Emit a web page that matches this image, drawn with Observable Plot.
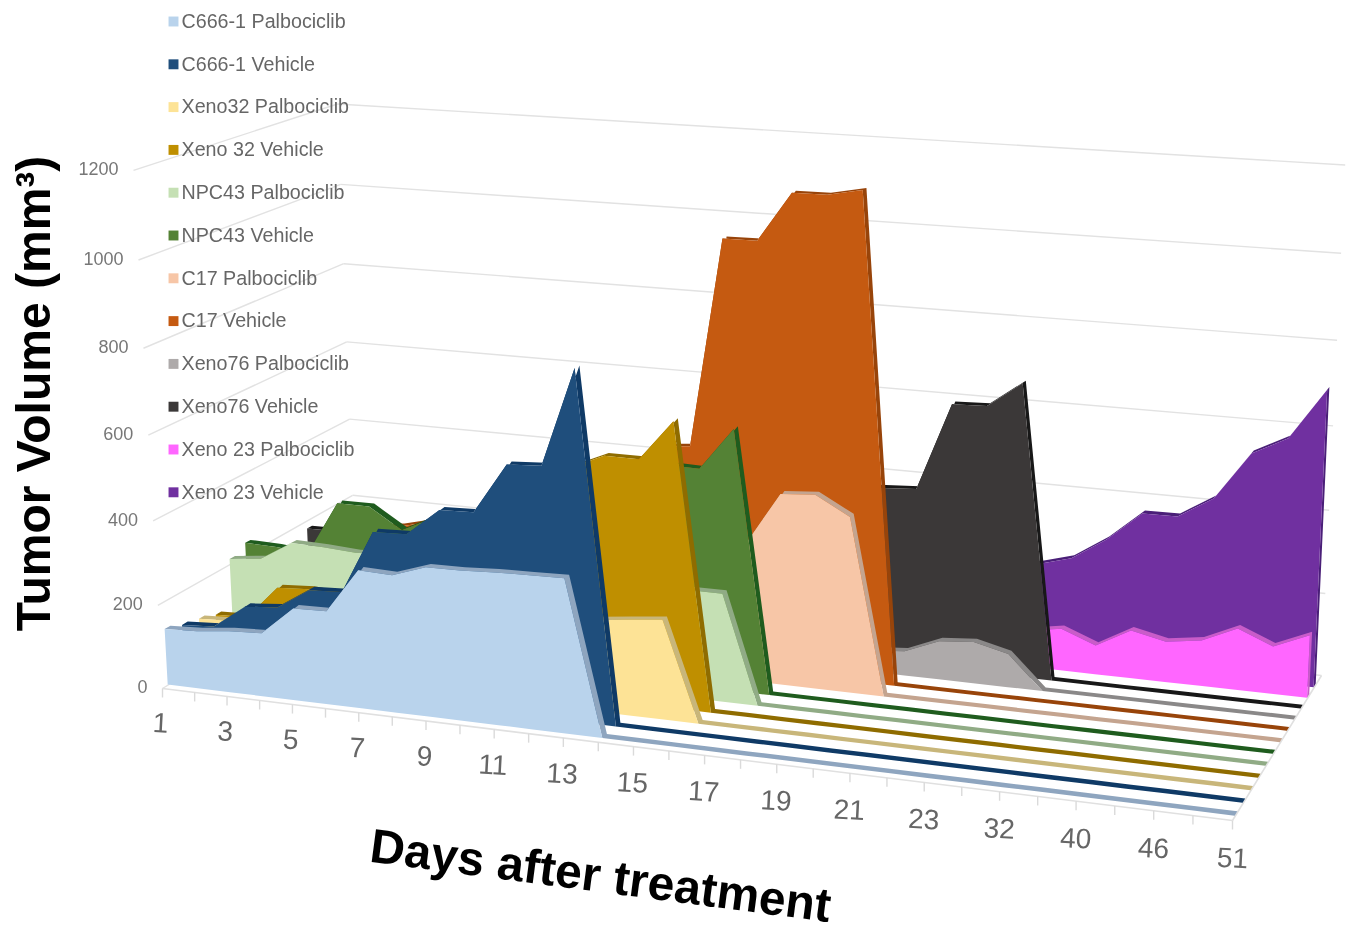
<!DOCTYPE html>
<html><head><meta charset="utf-8">
<script src="https://cdn.jsdelivr.net/npm/d3@7"></script>
<script src="https://cdn.jsdelivr.net/npm/@observablehq/plot@0.6"></script>
<style>html,body{margin:0;padding:0;background:#fff;overflow:hidden}svg{display:block;filter:blur(.6px)}</style>
</head><body><div id="chart"></div>
<script>
const days = [1,2,3,4,5,6,7,8,9,10,11,12,13,14,15,16,17,18,19,20,21,22,23,28,32,36,40,43,46,49,51];
const seriesNames = ["C666-1 Palbociclib","C666-1 Vehicle","Xeno32 Palbociclib","Xeno 32 Vehicle","NPC43 Palbociclib","NPC43 Vehicle","C17 Palbociclib","C17 Vehicle","Xeno76 Palbociclib","Xeno76 Vehicle","Xeno 23 Palbociclib","Xeno 23 Vehicle"];
const faceColors = ["#b9d3ec","#1f4e7c","#fde396","#bf8f00","#c5e0b4","#548235","#f7c6a7","#c55a11","#aeaaaa","#3b3838","#ff66ff","#7030a0"];
const topColors  = ["#8ea5bf","#0f3a66","#c8b67a","#8f6c00","#90ab85","#1f5c1e","#c4a48f","#98440a","#8a8888","#181818","#c95cc9","#4a1f78"];
const c666Palbo  = [134,138,147,151,219,221,326,323,350,351,355,357,359,0,0,0,0,0,0,0,0,0,0,0,0,0,0,0,0,0,0];
const c666Veh    = [120,125,182,189,239,243,393,396,460,463,580,585,811,0,0,0,0,0,0,0,0,0,0,0,0,0,0,0,0,0,0];
const xeno32Palbo= [111,115,120,130,150,155,190,195,205,210,212,214,215,225,234,0,0,0,0,0,0,0,0,0,0,0,0,0,0,0,0];
const xeno32Veh  = [97,100,181,186,180,260,290,300,360,370,480,540,575,575,669,0,0,0,0,0,0,0,0,0,0,0,0,0,0,0,0];
const npc43Palbo = [212,221,268,266,261,265,270,268,265,262,260,258,258,258,257,257,0,0,0,0,0,0,0,0,0,0,0,0,0,0,0];
const npc43Veh   = [230,228,220,352,352,302,340,345,380,385,430,470,510,522,520,620,0,0,0,0,0,0,0,0,0,0,0,0,0,0,0];
const c17Palbo   = [150,155,170,200,205,215,220,225,240,250,260,270,280,290,310,332,456,462,418,0,0,0,0,0,0,0,0,0,0,0,0];
const c17Veh     = [150,155,165,250,260,280,300,310,350,370,420,460,518,526,1018,1019,1133,1134,1150,0,0,0,0,0,0,0,0,0,0,0,0];
const xeno76Palbo= [40,42,45,48,50,50,52,52,50,50,52,50,52,50,52,50,52,52,52,59,93,100,80,0,0,0,0,0,0,0,0];
const xeno76Veh  = [179,180,170,175,220,230,250,280,300,330,350,370,380,390,390,400,410,420,424,429,638,641,701,0,0,0,0,0,0,0,0];
const xeno23Palbo= [60,62,65,70,75,70,72,75,78,75,72,80,78,82,85,80,78,82,85,80,78,85,88,102,70,116,98,110,148,114,150];
const xeno23Veh  = [100,105,110,115,125,135,145,155,165,175,180,185,190,195,200,205,210,212,215,218,220,225,228,251,305,376,377,428,542,585,705];
const seriesValues = [c666Palbo,c666Veh,xeno32Palbo,xeno32Veh,npc43Palbo,npc43Veh,c17Palbo,c17Veh,xeno76Palbo,xeno76Veh,xeno23Palbo,xeno23Veh];
const yTicks = [0,200,400,600,800,1000,1200];
const yMax = 1200;

// camera of the 3-D box: floor corners and vertical vanishing point
const floor = {A:[162,688],B:[1232,820],C:[1321,675],D:[355,570]};
const vanish = {x:795,y:12000,w:-0.0438};
const depth0 = 0.04, depthStep = 0.08, slab = 0.027;

const {A,B,C,D} = floor;
const sx=A[0]-B[0]+C[0]-D[0], sy=A[1]-B[1]+C[1]-D[1];
const dx1=B[0]-C[0], dx2=D[0]-C[0], dy1=B[1]-C[1], dy2=D[1]-C[1];
const den=dx1*dy2-dx2*dy1;
const g=(sx*dy2-dx2*sy)/den, h=(dx1*sy-sx*dy1)/den;
function project(u,v,value){
  const w=value/yMax, W=1+g*u+h*v;
  const X=A[0]+(B[0]*(1+g)-A[0])*u+(D[0]*(1+h)-A[0])*v+vanish.x*vanish.w*w;
  const Y=A[1]+(B[1]*(1+g)-A[1])*u+(D[1]*(1+h)-A[1])*v+vanish.y*vanish.w*w;
  const Z=W+vanish.w*w;
  return [X/Z,Y/Z];
}
const U=i=>i/(days.length-1);

const marks=[];
// gridlines on the two walls
const link=(data,a,b,opt)=>Plot.link(data,{x1:d=>a(d)[0],y1:d=>a(d)[1],x2:d=>b(d)[0],y2:d=>b(d)[1],...opt});
const gridStyle={stroke:"#e2e2e2",strokeWidth:1.4};
marks.push(link(yTicks,d=>project(0,0,d),d=>project(0,1,d),gridStyle));
marks.push(link(yTicks,d=>project(0,1,d),d=>project(1,1,d),gridStyle));
// floor outline and ticks
const floorStyle={stroke:"#e0e0e0",strokeWidth:1.6};
marks.push(link([0],()=>project(0,0,0),()=>project(1,0,0),floorStyle));
marks.push(link([0],()=>project(1,0,0),()=>project(1,1,0),floorStyle));
marks.push(Plot.link(days,{x1:(d,i)=>project(U(i),0,0)[0],y1:(d,i)=>project(U(i),0,0)[1],x2:(d,i)=>project(U(i),0,0)[0],y2:(d,i)=>project(U(i),0,0)[1]+9,stroke:"#dadada",strokeWidth:1.4}));

// series ribbons, back to front
for(let s=seriesNames.length-1;s>=0;s--){
  const vf=depth0+depthStep*s-slab/2, vb=vf+slab;
  const rows=seriesValues[s].map((value,i)=>({u:U(i),value,name:seriesNames[s]}));
  const ribbon=rows.concat([{u:1,value:0,name:seriesNames[s]}]);
  marks.push(Plot.area(ribbon,{
    x1:d=>project(d.u,vf,d.value)[0],y1:d=>project(d.u,vf,d.value)[1],
    x2:d=>project(d.u,vb,d.value)[0],y2:d=>project(d.u,vb,d.value)[1],
    fill:d=>d.name+" top"}));
  marks.push(Plot.area(rows,{
    x1:d=>project(d.u,vf,d.value)[0],y1:d=>project(d.u,vf,d.value)[1],
    x2:d=>project(d.u,vf,0)[0],y2:d=>project(d.u,vf,0)[1],
    fill:d=>d.name}));
}

// axis labels
const font="Liberation Sans";
marks.push(Plot.text(yTicks,{x:d=>project(0,0,d)[0],y:d=>project(0,0,d)[1],text:d=>String(d),textAnchor:"end",dx:-15,dy:-1,fontSize:18,fill:"#777",fontFamily:font}));
const labelled=days.map((d,i)=>({d,i})).filter(t=>t.i%2===0);
marks.push(Plot.text(labelled,{x:t=>project(U(t.i),0,0)[0]+2*U(t.i),y:t=>project(U(t.i),0,0)[1]+3*U(t.i),text:t=>String(t.d),dx:-2,dy:35,rotate:3,fontSize:28,fill:"#666",fontFamily:font}));
// titles
marks.push(Plot.text(["Tumor Volume (mm³)"],{x:[34],y:[393],text:d=>d,rotate:-90,fontSize:48,fontWeight:"bold",fill:"#000",fontFamily:font}));
marks.push(Plot.text(["Days after treatment"],{x:[600],y:[876],text:d=>d,rotate:7.5,fontSize:48,fontWeight:"bold",fill:"#000",fontFamily:font}));
// legend
const legendX=173, legendY0=21, legendStep=42.8;
marks.push(Plot.dot(seriesNames,{x:seriesNames.map(()=>legendX),y:seriesNames.map((d,i)=>legendY0+i*legendStep),symbol:"square",r:5.6,fill:d=>d}));
marks.push(Plot.text(seriesNames,{x:seriesNames.map(()=>legendX+8),y:seriesNames.map((d,i)=>legendY0+i*legendStep),text:d=>d,textAnchor:"start",fontSize:19.7,fill:"#666",fontFamily:font}));

const chart=Plot.plot({
  width:1351,height:931,margin:0,
  x:{domain:[0,1351],range:[0,1351],axis:null},
  y:{domain:[0,931],range:[0,931],axis:null},
  color:{type:"ordinal",domain:[...seriesNames,...seriesNames.map(n=>n+" top")],range:[...faceColors,...topColors]},
  style:{background:"#fff"},
  marks
});
document.getElementById("chart").append(chart);
</script></body></html>
